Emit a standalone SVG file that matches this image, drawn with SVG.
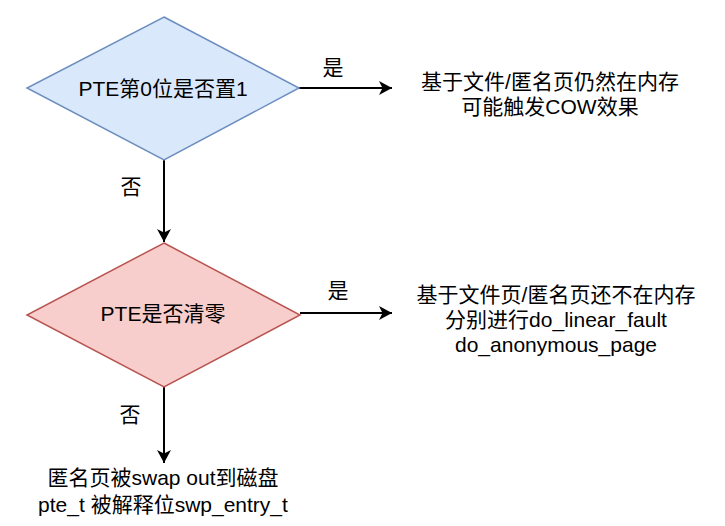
<svg xmlns="http://www.w3.org/2000/svg" width="725" height="526" viewBox="0 0 725 526">
<style>
text{font-family:"Liberation Sans","Noto Sans CJK SC",Arial,sans-serif;font-size:21px;fill:#000;text-anchor:middle}
.edge{stroke:#000;stroke-width:2;fill:none}
</style>
<defs>
<marker id="arr" markerUnits="userSpaceOnUse" markerWidth="16" markerHeight="14" refX="13" refY="7" orient="auto">
<path d="M0,0 L13,7 L0,14 L3.5,7 Z" fill="#000"/>
</marker>
</defs>
<rect width="725" height="526" fill="#fff"/>
<g id="connectors">
<line class="edge" x1="164" y1="160" x2="164" y2="242" marker-end="url(#arr)"/>
<line class="edge" x1="299" y1="88" x2="392" y2="88" marker-end="url(#arr)"/>
<line class="edge" x1="300" y1="313" x2="392" y2="313" marker-end="url(#arr)"/>
<line class="edge" x1="164" y1="387" x2="164" y2="463" marker-end="url(#arr)"/>
<text x="333" y="75">是</text>
<text x="131" y="194">否</text>
<text x="338" y="298">是</text>
<text x="130" y="422">否</text>
</g>
<g id="d1">
<polygon points="164,17 299,88 164,160 27,88" fill="#dae8fc" stroke="#6c8ebf" stroke-width="1.5"/>
<text x="163" y="96">PTE第0位是否置1</text>
</g>
<g id="d2">
<polygon points="164,243 300,315 164,387 27,315" fill="#f8cecc" stroke="#b85450" stroke-width="1.5"/>
<text x="163" y="321">PTE是否清零</text>
</g>
<g id="t1">
<text x="550" y="89">基于文件/匿名页仍然在内存</text>
<text x="550" y="114">可能触发COW效果</text>
</g>
<g id="t2">
<text x="556" y="302">基于文件页/匿名页还不在内存</text>
<text x="556" y="327">分别进行do_linear_fault</text>
<text x="556" y="352">do_anonymous_page</text>
</g>
<g id="t3">
<text x="163" y="485">匿名页被swap out到磁盘</text>
<text x="163" y="512">pte_t 被解释位swp_entry_t</text>
</g>
</svg>
